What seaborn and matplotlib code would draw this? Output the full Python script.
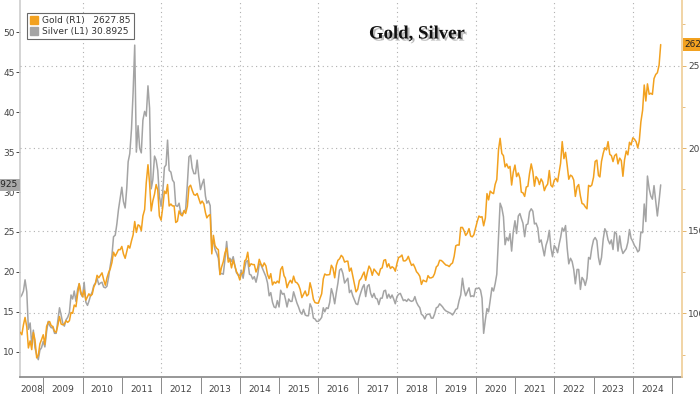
import pandas as pd
import matplotlib.pyplot as plt
import matplotlib.patheffects as pe
from matplotlib.patches import Patch
from matplotlib.transforms import blended_transform_factory
import seaborn as sns

# semi-monthly readings (15th and month end), from end of May 2008 to mid Sep 2024
gold = [
    885, 870, 930, 975, 918, 790, 833, 780, 884, 840, 730, 745, 815, 840, 870,
    810, 920, 945, 950, 925, 920, 890, 885, 925, 980, 935, 930, 935, 955, 945, 955, 1005, 1000, 1050, 1040, 1115, 1180, 1130, 1100,
    1140, 1080, 1100, 1118, 1105, 1115, 1160, 1180, 1230, 1215, 1230, 1245, 1205, 1170, 1215, 1248, 1270, 1307, 1370, 1346, 1365, 1386, 1385, 1405,
    1360, 1333, 1375, 1410, 1395, 1439, 1475, 1556, 1490, 1536, 1530, 1500, 1590, 1628, 1790, 1900, 1790, 1620, 1680, 1722, 1780, 1746, 1590, 1564,
    1640, 1740, 1725, 1780, 1650, 1662, 1650, 1651, 1550, 1558, 1620, 1598, 1590, 1622, 1605, 1648, 1765, 1776, 1745, 1719, 1715, 1726, 1695, 1664,
    1680, 1663, 1610, 1578, 1592, 1598, 1360, 1472, 1410, 1393, 1385, 1234, 1280, 1313, 1365, 1395, 1310, 1327, 1275, 1323, 1287, 1253, 1235, 1202,
    1240, 1244, 1318, 1326, 1370, 1284, 1300, 1295, 1295, 1250, 1275, 1327, 1300, 1282, 1305, 1287, 1235, 1210, 1240, 1172, 1190, 1182, 1195, 1184,
    1265, 1283, 1228, 1213, 1155, 1183, 1200, 1183, 1225, 1190, 1185, 1172, 1145, 1095, 1115, 1135, 1105, 1115, 1185, 1142, 1085, 1065, 1062, 1061,
    1090, 1118, 1208, 1238, 1232, 1233, 1235, 1291, 1273, 1215, 1290, 1321, 1330, 1351, 1340, 1310, 1315, 1316, 1255, 1274, 1225, 1174, 1130, 1146,
    1198, 1210, 1233, 1250, 1200, 1249, 1286, 1268, 1230, 1268, 1255, 1242, 1230, 1269, 1275, 1321, 1325, 1280, 1300, 1271, 1282, 1275, 1255, 1303,
    1338, 1343, 1353, 1318, 1317, 1325, 1345, 1315, 1290, 1298, 1278, 1252, 1241, 1224, 1175, 1201, 1195, 1191, 1228, 1214, 1215, 1220, 1240, 1281,
    1290, 1321, 1320, 1313, 1302, 1292, 1290, 1283, 1297, 1305, 1345, 1409, 1414, 1413, 1520, 1520, 1500, 1472, 1485, 1513, 1468, 1463, 1476, 1517,
    1555, 1589, 1582, 1585, 1530, 1577, 1725, 1687, 1740, 1730, 1725, 1781, 1810, 1990, 2060, 1968, 1955, 1887, 1905, 1879, 1890, 1777, 1855, 1898,
    1828, 1850, 1818, 1734, 1730, 1708, 1765, 1769, 1845, 1905, 1858, 1770, 1828, 1814, 1780, 1814, 1795, 1743, 1768, 1783, 1865, 1775, 1765, 1806,
    1818, 1797, 1855, 1909, 2040, 1937, 1975, 1897, 1812, 1837, 1830, 1807, 1708, 1766, 1780, 1711, 1665, 1661, 1645, 1633, 1775, 1768, 1777, 1824,
    1920, 1928, 1835, 1826, 1920, 1969, 2003, 1990, 2040, 1963, 1955, 1919, 1955, 1965, 1905, 1940, 1925, 1830, 1930, 1983, 1960, 2036, 2020, 2063,
    2055, 2039, 2002, 2044, 2160, 2230, 2383, 2286, 2390, 2327, 2333, 2326, 2422, 2447, 2457, 2503, 2627.85,
]
silver = [
    16.8, 17.1, 17.6, 19.0, 17.5, 12.8, 13.6, 10.9, 12.7, 10.5, 9.6, 9.0, 10.2, 10.5, 11.3,
    10.6, 12.5, 13.8, 13.3, 13.0, 13.0, 12.3, 12.3, 13.9, 15.5, 14.6, 13.6, 13.2, 14.0, 14.3, 14.9, 17.1, 16.6, 17.6, 16.3, 17.8, 18.5, 17.2, 16.9,
    18.7, 16.2, 15.8, 16.3, 17.0, 17.5, 18.3, 18.6, 19.2, 18.4, 18.6, 18.7, 18.1, 18.0, 18.2, 19.4, 20.8, 22.0, 24.4, 24.6, 26.0, 27.8, 29.2, 30.6,
    28.8, 28.0, 30.5, 33.8, 34.8, 37.9, 42.5, 48.4, 35.0, 38.3, 35.5, 34.9, 39.0, 40.1, 39.5, 43.3, 40.5, 30.4, 31.5, 34.5, 34.0, 32.7, 29.5, 28.2,
    29.9, 33.1, 33.4, 36.5, 32.7, 32.5, 31.5, 31.2, 28.3, 28.2, 28.6, 27.4, 27.2, 27.6, 27.8, 31.0, 34.4, 34.6, 33.0, 32.3, 32.3, 34.0, 32.0, 30.3,
    31.0, 31.6, 29.5, 28.6, 28.9, 28.3, 23.2, 24.0, 22.8, 22.3, 21.7, 19.7, 19.8, 19.7, 21.5, 23.8, 21.7, 21.7, 21.3, 21.9, 20.8, 19.9, 19.6, 19.5,
    20.2, 19.2, 20.5, 21.3, 21.4, 19.7, 19.6, 19.1, 19.4, 18.7, 19.6, 21.0, 20.9, 20.4, 19.9, 19.4, 18.6, 17.0, 17.4, 16.2, 15.6, 15.5, 16.4, 15.6,
    17.7, 17.2, 17.3, 16.6, 15.6, 16.6, 16.3, 16.3, 17.5, 16.8, 16.1, 15.6, 15.0, 14.7, 15.3, 14.6, 14.5, 14.5, 16.0, 15.5, 14.2, 14.1, 13.8, 13.8,
    14.0, 14.3, 15.5, 15.0, 15.5, 15.4, 16.2, 17.9, 17.2, 16.0, 17.4, 18.6, 20.2, 20.4, 19.8, 18.6, 18.9, 19.2, 17.4, 17.7, 17.0, 16.5, 16.0, 15.9,
    16.8, 17.5, 18.1, 18.4, 16.9, 18.2, 18.4, 17.3, 16.8, 17.3, 16.7, 16.6, 15.9, 16.7, 16.7, 17.6, 17.7, 16.7, 17.2, 16.7, 17.1, 16.6, 16.0, 16.9,
    17.2, 17.3, 16.8, 16.4, 16.5, 16.3, 16.6, 16.4, 16.3, 16.4, 16.9, 16.2, 15.8, 15.5, 14.7, 14.5, 14.1, 14.6, 14.7, 14.7, 14.2, 14.2, 14.7, 15.5,
    15.6, 16.0, 15.8, 15.6, 15.3, 15.1, 15.0, 14.9, 14.8, 14.6, 14.9, 15.3, 15.4, 16.4, 17.1, 19.2, 17.8, 17.0, 17.5, 18.0, 16.9, 17.0, 16.9, 17.9,
    17.9, 18.0, 17.7, 16.7, 12.3, 14.0, 15.4, 15.0, 16.5, 18.0, 17.6, 18.5, 19.7, 24.4, 28.6, 28.0, 26.9, 23.4, 24.3, 23.9, 24.8, 22.6, 25.0, 26.4,
    24.8, 27.0, 27.3, 26.7, 26.1, 24.4, 25.9, 26.0, 27.5, 27.9, 27.6, 26.0, 26.1, 25.5, 23.7, 24.0, 23.0, 22.0, 23.3, 24.0, 25.2, 23.0, 21.9, 23.3,
    23.0, 22.4, 23.5, 24.3, 25.5, 25.1, 25.8, 23.0, 21.0, 21.7, 21.3, 20.3, 18.5, 20.3, 20.3, 17.8, 19.3, 19.0, 18.3, 19.2, 21.8, 21.6, 23.0, 24.0,
    24.3, 23.9, 21.8, 20.9, 21.8, 24.1, 25.4, 25.0, 24.0, 23.5, 24.0, 22.8, 25.0, 24.8, 22.6, 24.5, 23.0, 22.3, 22.6, 22.9, 23.7, 25.3, 24.2, 23.8,
    23.3, 23.0, 22.5, 22.7, 25.0, 24.9, 28.5, 26.3, 32.0, 30.4, 29.5, 29.1, 30.8, 28.8, 27.0, 28.9, 30.8925,
]
years = list(range(2008, 2025))
gold_label = 'Gold (R1)'
silver_label = 'Silver (L1)'
title = 'Gold, Silver'

assert len(gold) == len(silver)
dates = pd.date_range('2008-05-31', periods=len(gold), freq='SME')
df = pd.DataFrame({'date': dates, 'gold': gold, 'silver': silver})

GOLD_C = '#f2a11f'
SILVER_C = '#a4a4a4'
GRID_C = '#b0b0b0'
TXT_C = '#444444'

sns.set_theme(style='white')
plt.rcParams['font.family'] = ['DejaVu Sans']

fig = plt.figure(figsize=(7, 3.94), dpi=100)
ax = fig.add_axes([20 / 700, 17 / 394, 662 / 700, 377 / 394])
ax2 = ax.twinx()

sns.lineplot(data=df, x='date', y='silver', ax=ax, color=SILVER_C, lw=1.1)
sns.lineplot(data=df, x='date', y='gold', ax=ax2, color=GOLD_C, lw=1.1)

ax.set_xlim(pd.Timestamp('2008-05-29'), pd.Timestamp('2025-04-01'))
ax.set_ylim(6.83, 54.05)
ax2.set_ylim(614, 2898)
for a in (ax, ax2):
    a.set_xlabel('')
    a.set_ylabel('')

# left axis (silver)
ax.set_yticks(range(10, 55, 5))
ax.tick_params(axis='y', left=True, labelsize=6.5, length=3, width=0.7,
               colors=TXT_C, pad=1)
ax.spines['left'].set_color('#cfcfcf')
ax.spines['bottom'].set_color('#8a8a8a')
ax.spines['top'].set_visible(False)
ax.spines['right'].set_visible(False)

# right axis (gold)
ax2.set_yticks([1000, 1500, 2000, 2500])
ax2.set_yticks([750, 1250, 1750, 2250, 2750], minor=True)
ax2.tick_params(axis='y', which='major', right=True, labelsize=6.5, length=3,
                width=0.7, color='#e3b46c', labelcolor=TXT_C, pad=1.5)
ax2.tick_params(axis='y', which='minor', right=True, length=2, width=0.6,
                color='#e3b46c')
for s in ('left', 'top', 'bottom'):
    ax2.spines[s].set_visible(False)
ax2.spines['right'].set_color('#f0cf9a')
ax2.yaxis.grid(True, which='major', ls=(0, (1, 3)), color=GRID_C, lw=0.8)
ax2.set_axisbelow(True)

# x axis: year cells
ax.set_xticks([pd.Timestamp(f'{y}-01-01') for y in years[1:] + [2025]])
ax.set_xticklabels([])
ax.set_xticks([pd.Timestamp('2008-09-15')] +
              [pd.Timestamp(f'{y}-07-01') for y in years[1:]], minor=True)
ax.set_xticklabels([str(y) for y in years], minor=True)
ax.tick_params(axis='x', which='major', bottom=True, length=13, width=0.7,
               color='#8a8a8a', direction='out')
ax.tick_params(axis='x', which='minor', bottom=True, length=0, pad=5.5,
               labelsize=6.5, labelcolor=TXT_C)

for y in years[2::2]:
    ax.axvline(pd.Timestamp(f'{y}-01-01'), color=GRID_C, ls=(0, (1, 3)),
               lw=0.8, zorder=0)

# legend
handles = [Patch(color=GOLD_C), Patch(color=SILVER_C)]
labels = [f'{gold_label}   {gold[-1]:.2f}', f'{silver_label} {silver[-1]}']
leg = ax2.legend(handles, labels, loc='upper left',
                 bbox_to_anchor=(7 / 662, 1 - 13 / 377), borderaxespad=0,
                 fontsize=6.5, handlelength=0.9, handleheight=0.9,
                 handletextpad=0.4, labelspacing=0.2, borderpad=0.35,
                 fancybox=False, frameon=True)
leg.get_frame().set_edgecolor('#444444')
leg.get_frame().set_linewidth(0.8)
for t in leg.get_texts():
    t.set_color('#333333')

# last value tags
tl = blended_transform_factory(ax.transAxes, ax.transData)
ax.text(-0.003, silver[-1], f'{silver[-1]}', transform=tl, ha='right',
        va='center', fontsize=6.5, color='#222222', clip_on=False,
        bbox=dict(boxstyle='square,pad=0.2', fc='#a8a8a8', ec='none'))
tr = blended_transform_factory(ax2.transAxes, ax2.transData)
ax2.text(1.004, gold[-1], f'{gold[-1]:.2f}', transform=tr, ha='left',
         va='center', fontsize=6.5, color='#222222', clip_on=False,
         bbox=dict(boxstyle='square,pad=0.2', fc=GOLD_C, ec='none'))

fig.text(417 / 700, 1 - 34 / 394, title, family='Liberation Serif',
         fontweight='bold', fontsize=13.5, ha='center', va='center',
         color='#111111',
         path_effects=[pe.withSimplePatchShadow(offset=(1.5, -1.5),
                                                shadow_rgbFace='#777777',
                                                alpha=0.5)])

fig.savefig('out.png', dpi=100)
